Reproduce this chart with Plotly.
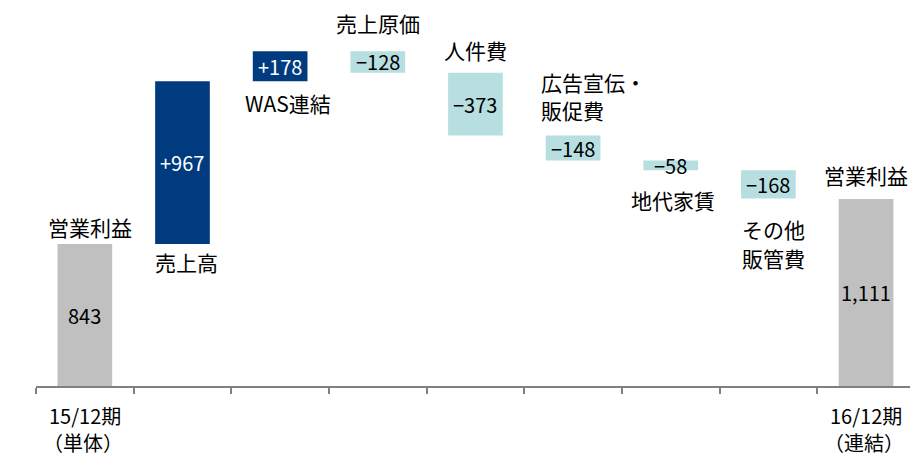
import plotly.graph_objects as go

categories = ["営業利益", "売上高", "WAS連結", "売上原価", "人件費",
              "広告宣伝・販促費", "地代家賃", "その他販管費", "営業利益"]
values = [843, 967, 178, -128, -373, -148, -58, -168, 1111]
measures = ["absolute", "relative", "relative", "relative", "relative",
            "relative", "relative", "relative", "absolute"]
value_labels = ["843", "+967", "+178", "−128", "−373", "−148", "−58", "−168", "1,111"]
period_labels = [("15/12期", "（単体）"), ("16/12期", "（連結）")]

DARK = "#003B7F"
LIGHT = "#B7DFE1"
GRAY = "#C0C0C0"
FONT = "Noto Sans CJK JP"
FS = 21
FSN = 20

x = list(range(len(categories)))

fig = go.Figure(go.Waterfall(
    x=x, y=values, measure=measures,
    width=0.56,
    increasing=dict(marker=dict(color=DARK)),
    decreasing=dict(marker=dict(color=LIGHT)),
    totals=dict(marker=dict(color=GRAY)),
    connector=dict(visible=False),
    hoverinfo="skip",
))

# bar extents for label placement
bottoms, tops = [], []
run = 0
for v, m in zip(values, measures):
    if m == "absolute":
        b, t = 0, v
        run = v
    else:
        b, t = sorted([run, run + v])
        run += v
    bottoms.append(b)
    tops.append(t)

ann = []
def A(xv, yv, text, yshift=0, xshift=0, color="#000000", xanchor="center", size=FS):
    ann.append(dict(x=xv, y=yv, text=text, showarrow=False, xref="x", yref="y",
                    yshift=yshift, xshift=xshift, xanchor=xanchor, yanchor="middle",
                    font=dict(family=FONT, size=size, color=color)))

# value labels inside bars
for i, (lab, m, v) in enumerate(zip(value_labels, measures, values)):
    col = "#FFFFFF" if (m == "relative" and v > 0) else "#000000"
    A(i, (bottoms[i] + tops[i]) / 2, lab, color=col, size=FSN)

# category labels
A(0, tops[0], "営業利益", yshift=17, xshift=5)
A(1, bottoms[1], "売上高", yshift=-18, xshift=4)
A(2, bottoms[2], "WAS連結", yshift=-22, xshift=8)
A(3, tops[3], "売上原価", yshift=28)
A(4, tops[4], "人件費", yshift=23)
A(5 - 0.35, tops[5], "広告宣伝・", yshift=54, xanchor="left")
A(5 - 0.35, tops[5], "販促費", yshift=26, xanchor="left")
A(6, bottoms[6], "地代家賃", yshift=-30, xshift=2)
A(7 - 0.29, bottoms[7], "その他", yshift=-30, xanchor="left")
A(7 - 0.29, bottoms[7], "販管費", yshift=-59, xanchor="left")
A(8, tops[8], "営業利益", yshift=24)

# period labels under axis
for i, (l1, l2) in zip([0, 8], period_labels):
    ann.append(dict(x=i, y=0, text=l1, showarrow=False, xref="x", yref="y",
                    yshift=-29, yanchor="middle", font=dict(family=FONT, size=FSN, color="#000")))
    ann.append(dict(x=i, y=0, text=l2, showarrow=False, xref="x", yref="y",
                    yshift=-56, xshift=-2, yanchor="middle", borderpad=0,
                    font=dict(family=FONT, size=FSN, color="#000")))

fig.update_layout(
    width=910, height=457,
    margin=dict(l=36, r=0, t=0, b=71),
    paper_bgcolor="white", plot_bgcolor="white",
    showlegend=False,
    annotations=ann,
    xaxis=dict(range=[-0.5, 8.45], tickvals=[k - 0.5 for k in range(9)],
               ticktext=[""] * 9, ticks="outside", ticklen=6, tickwidth=2,
               tickcolor="#808080", showline=True, linecolor="#808080", linewidth=2,
               showgrid=False, zeroline=False, fixedrange=True),
    yaxis=dict(range=[0, 2292], visible=False, showgrid=False, zeroline=False),
)

fig.write_html("out.html", config={"displayModeBar": False},
               post_script="document.body.style.margin='0';document.body.style.overflow='hidden';")
